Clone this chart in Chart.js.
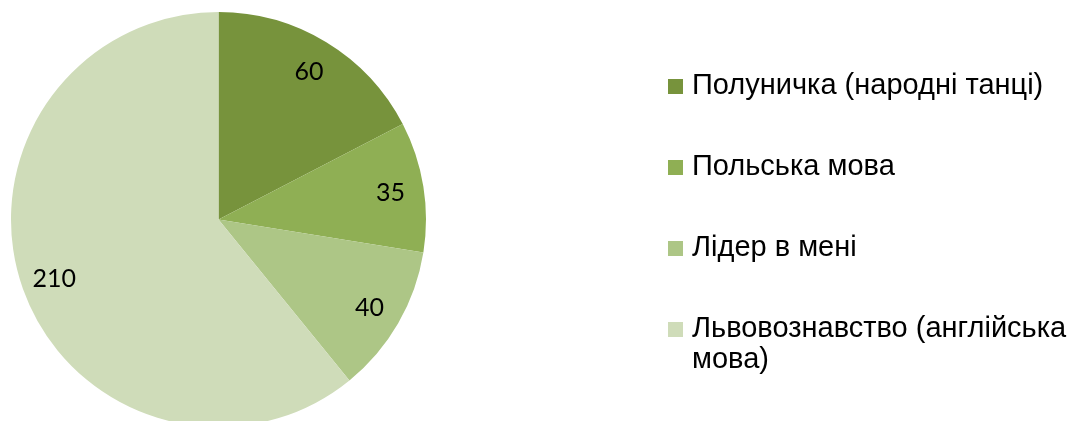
<!DOCTYPE html>
<html>
<head>
<meta charset="utf-8">
<script src="https://cdn.jsdelivr.net/npm/chart.js@4"></script>
<style>
    html, body { margin: 0; padding: 0; background: #fff; overflow: hidden; }
    #wrap { position: relative; width: 1089px; height: 440px; }
    #legend { position: absolute; left: 668px; top: 69px; width: 420px; }
    .item { display: flex; align-items: flex-start; height: 81px; }
    .box { width: 15px; height: 15px; margin-top: 10px; margin-right: 9px; flex: none; }
    .txt { font-family: "Liberation Sans", Arial, sans-serif; font-size: 29px; line-height: 31px; color: #000; width: 396px; }
</style>
</head>
<body>
<div id="wrap">
    <canvas id="pieChart"></canvas>
    <div id="legend"></div>
</div>
<script>
const categories = ['Полуничка (народні танці)', 'Польська мова', 'Лідер в мені', 'Львовознавство (англійська мова)'];
const values = [60, 35, 40, 210];
const sliceColors = ['#77933c', '#8faf54', '#adc686', '#cfdcb9'];

// value labels placed inside each slice, near the outer edge
const sliceLabels = {
    id: 'sliceLabels',
    afterDatasetsDraw(chart) {
        const c = chart.ctx;
        const meta = chart.getDatasetMeta(0);
        c.save();
        c.font = '25px Lato, "Open Sans", sans-serif';
        c.fillStyle = '#000';
        c.textAlign = 'center';
        c.textBaseline = 'alphabetic';
        meta.data.forEach((arc, i) => {
            const p = arc.getProps(['x', 'y', 'startAngle', 'endAngle', 'outerRadius'], true);
            const mid = (p.startAngle + p.endAngle) / 2;
            const r = p.outerRadius * 0.84;
            // shift by half the digit height so the number is centred on the point
            c.fillText(String(values[i]), p.x + Math.cos(mid) * r, p.y + Math.sin(mid) * r + 9);
        });
        c.restore();
    }
};

document.addEventListener('DOMContentLoaded', function () {
    const ctx = document.getElementById('pieChart').getContext('2d');

    const chart = new Chart(ctx, {
        type: 'pie',
        data: {
            labels: categories,
            datasets: [{
                data: values,
                backgroundColor: sliceColors,
                borderWidth: 0
            }]
        },
        options: {
            responsive: true,
            maintainAspectRatio: false,
            animation: false,
            layout: { padding: { left: 11, top: 12, right: 663, bottom: 13 } },
            plugins: {
                legend: { display: false },
                tooltip: { enabled: false }
            }
        },
        plugins: [sliceLabels]
    });

    // html legend so the long label can wrap
    const legend = document.getElementById('legend');
    chart.options.plugins.legend.labels.generateLabels(chart).forEach(item => {
        const row = document.createElement('div');
        row.className = 'item';
        const box = document.createElement('div');
        box.className = 'box';
        box.style.backgroundColor = item.fillStyle;
        const txt = document.createElement('div');
        txt.className = 'txt';
        txt.textContent = item.text;
        row.appendChild(box);
        row.appendChild(txt);
        legend.appendChild(row);
    });
});
</script>
</body>
</html>
